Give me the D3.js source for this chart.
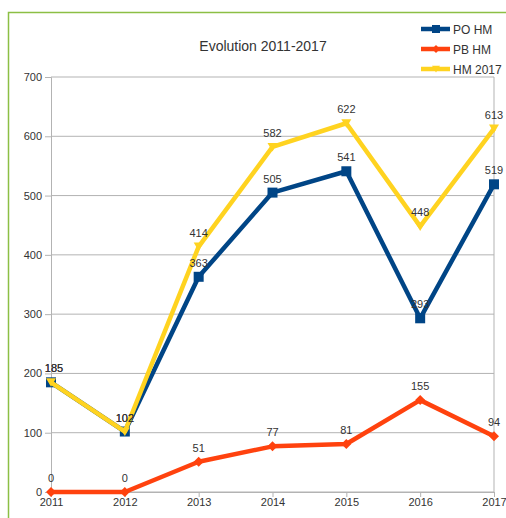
<!DOCTYPE html>
<html><head><meta charset="utf-8">
<script src="https://cdn.jsdelivr.net/npm/d3@7"></script>
<style>body{margin:0;background:#fff}svg{display:block}</style>
</head><body>
<script>
const years = ["2011","2012","2013","2014","2015","2016","2017"];
const seriesNames = ["PO HM","PB HM","HM 2017"];
const poHM = [185,102,363,505,541,293,519];
const pbHM = [0,0,51,77,81,155,94];
const hm2017 = [185,102,414,582,622,448,613];
const yTicks = [0,100,200,300,400,500,600,700];
const title = "Evolution 2011-2017";

const W=506,H=518;
const svg=d3.select("body").append("svg").attr("width",W).attr("height",H);
svg.append("rect").attr("x",8.5).attr("y",12.5).attr("width",W).attr("height",H).attr("fill","#fff").attr("stroke","#8cbf44").attr("stroke-width",1.5);

const x=d3.scalePoint().domain(years).range([51,494]);
const y=d3.scaleLinear().domain([0,700]).range([492,77]);

svg.append("g").selectAll("line").data(yTicks).join("line")
 .attr("x1",51).attr("x2",494).attr("y1",d=>y(d)).attr("y2",d=>y(d))
 .attr("stroke","#b3b3b3").attr("stroke-width",1);
svg.append("line").attr("x1",494).attr("x2",494).attr("y1",77).attr("y2",492).attr("stroke","#b3b3b3");

const yAxis=svg.append("g").attr("transform","translate(51,0)").call(d3.axisLeft(y).tickValues(yTicks).tickSize(6).tickPadding(3).tickFormat(d3.format("d")));
const xAxis=svg.append("g").attr("transform","translate(0,492)").call(d3.axisBottom(x).tickSize(5).tickPadding(1));
[yAxis,xAxis].forEach(a=>{a.select(".domain").attr("stroke","#b3b3b3");a.selectAll(".tick line").attr("stroke","#b3b3b3");a.selectAll("text").attr("fill","#333").attr("font-family","Liberation Sans, Arial, sans-serif").attr("font-size","11px");});

svg.append("text").attr("x",263).attr("y",51).attr("text-anchor","middle").attr("font-family","Liberation Sans, Arial, sans-serif").attr("font-size","14px").attr("fill","#333").text(title);

const data=[
 {name:seriesNames[0],vals:poHM,color:"#004586",marker:"square"},
 {name:seriesNames[1],vals:pbHM,color:"#ff420e",marker:"diamond"},
 {name:seriesNames[2],vals:hm2017,color:"#ffd320",marker:"tri"}
];
const line=d3.line().x((d,i)=>x(years[i])).y(d=>y(d));
function marker(g,type,color,size){
 if(type==="square") g.append("rect").attr("x",-size).attr("y",-size).attr("width",2*size).attr("height",2*size).attr("fill",color);
 else if(type==="diamond") g.append("path").attr("d",`M0,${-size}L${size},0L0,${size}L${-size},0Z`).attr("fill",color);
 else g.append("path").attr("d",`M${-size},${-size*0.8}L${size},${-size*0.8}L0,${size*0.9}Z`).attr("fill",color);
}
data.forEach(s=>{
 svg.append("path").datum(s.vals).attr("d",line).attr("fill","none").attr("stroke",s.color).attr("stroke-width",4.5).attr("stroke-linejoin","round");
 s.vals.forEach((v,i)=>{
   const g=svg.append("g").attr("transform",`translate(${x(years[i])},${y(v)})`);
   marker(g,s.marker,s.color,5);
 });
});
data.forEach(s=>{
 s.vals.forEach((v,i)=>{
   svg.append("text").attr("x",x(years[i])+(i===0&&v>0?3:0)).attr("y",y(v)-10)
    .attr("text-anchor","middle").attr("font-family","Liberation Sans, Arial, sans-serif").attr("font-size","11px").attr("fill","#333").text(v);
 });
});

const lg=svg.append("g");
data.forEach((s,i)=>{
 const yy=29+i*20;
 lg.append("line").attr("x1",421).attr("x2",450).attr("y1",yy).attr("y2",yy).attr("stroke",s.color).attr("stroke-width",4.5);
 const g=lg.append("g").attr("transform",`translate(436,${yy})`);
 marker(g,s.marker,s.color,4);
 lg.append("text").attr("x",453).attr("y",yy+5).attr("font-family","Liberation Sans, Arial, sans-serif").attr("font-size","12px").attr("fill","#333").text(s.name);
});
</script>
</body></html>
